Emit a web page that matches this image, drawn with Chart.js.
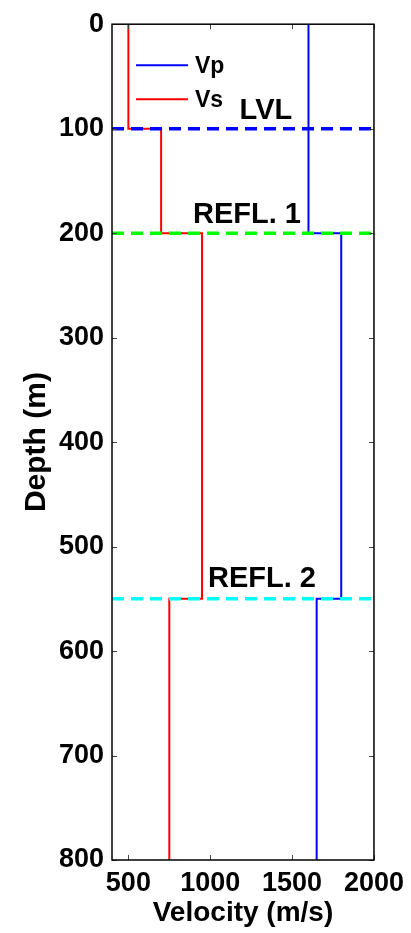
<!DOCTYPE html>
<html>
<head>
<meta charset="utf-8">
<script src="https://cdn.jsdelivr.net/npm/chart.js@4/dist/chart.umd.min.js"></script>
<style>
  html, body { margin: 0; padding: 0; background: #ffffff; }
  #wrap { width: 411px; height: 933px; }
</style>
</head>
<body>
<div id="wrap"><canvas id="c" width="411" height="933"></canvas></div>
<script>
// Layered velocity model: boundaries in metres, velocities per layer in m/s
const layerDepths = [0, 100, 200, 550, 800];
const vpValues = [1600, 1600, 1800, 1650];
const vsValues = [500, 700, 950, 750];

// Interfaces marked across the section
const horizonNames = ['LVL', 'REFL. 1', 'REFL. 2'];
const horizonDepths = [100, 200, 550];

// Axis tick values
const xTicks = [500, 1000, 1500, 2000];
const yTicks = [0, 100, 200, 300, 400, 500, 600, 700, 800];

const FONT = '"Liberation Sans", Arial, Helvetica, sans-serif';
const horizonColors = ['#0000ff', '#00ff00', '#00ffff'];

// Turn per-layer velocities into a stepped depth profile
function stepProfile(values) {
  const pts = [];
  values.forEach((v, i) => {
    pts.push({ x: v, y: layerDepths[i] });
    pts.push({ x: v, y: layerDepths[i + 1] });
  });
  return pts;
}

const xMin = 400, xMax = 2000;

const horizonSets = horizonDepths.map((d, i) => ({
  label: horizonNames[i],
  data: [{ x: xMin, y: d }, { x: xMax, y: d }],
  borderColor: horizonColors[i],
  borderWidth: 3.5,
  borderDash: [12, 7],
  pointRadius: 0,
  showLine: true,
  isHorizon: true
}));

const velocitySets = [
  { label: 'Vp', data: stepProfile(vpValues), borderColor: '#0000ff' },
  { label: 'Vs', data: stepProfile(vsValues), borderColor: '#ff0000' }
].map(ds => Object.assign(ds, { borderWidth: 2, pointRadius: 0, showLine: true }));

// Box, inward ticks, legend and horizon captions
const decorations = {
  id: 'decorations',
  afterDatasetsDraw(chart) {
    const { ctx, chartArea: a, scales } = chart;
    const xs = scales.x, ys = scales.y;
    ctx.save();

    // inward tick marks on all four sides
    ctx.strokeStyle = '#444444';
    ctx.lineWidth = 1;
    const tl = 5;
    ctx.beginPath();
    xTicks.forEach(v => {
      const px = Math.round(xs.getPixelForValue(v)) + 0.5;
      ctx.moveTo(px, a.bottom); ctx.lineTo(px, a.bottom - tl);
      ctx.moveTo(px, a.top); ctx.lineTo(px, a.top + tl);
    });
    yTicks.forEach(v => {
      const py = Math.round(ys.getPixelForValue(v)) + 0.5;
      ctx.moveTo(a.left, py); ctx.lineTo(a.left + tl, py);
      ctx.moveTo(a.right, py); ctx.lineTo(a.right - tl, py);
    });
    ctx.stroke();

    // axes box
    ctx.strokeStyle = '#000000';
    ctx.lineWidth = 1.5;
    ctx.strokeRect(a.left, a.top, a.right - a.left, a.bottom - a.top);

    // legend inside the upper-left corner
    const legendRows = chart.data.datasets.filter(d => !d.isHorizon);
    legendRows.forEach((ds, i) => {
      const y = a.top + 41 + i * 34;
      ctx.strokeStyle = ds.borderColor;
      ctx.lineWidth = 2;
      ctx.beginPath();
      ctx.moveTo(a.left + 24, y);
      ctx.lineTo(a.left + 76, y);
      ctx.stroke();
      ctx.fillStyle = '#000000';
      ctx.font = 'bold 23px ' + FONT;
      ctx.textAlign = 'left';
      ctx.textBaseline = 'middle';
      ctx.fillText(ds.label, a.left + 83, y + 1);
    });

    // captions above each interface
    const captionX = [1340, 1224, 1316];
    const captionLift = [10, 10, 12];
    ctx.fillStyle = '#000000';
    ctx.font = 'bold 29px ' + FONT;
    ctx.textAlign = 'center';
    ctx.textBaseline = 'alphabetic';
    horizonNames.forEach((name, i) => {
      const px = xs.getPixelForValue(captionX[i]);
      const py = ys.getPixelForValue(horizonDepths[i]) - captionLift[i];
      ctx.fillText(name, px, py);
    });
    ctx.restore();
  }
};

new Chart(document.getElementById('c'), {
  type: 'scatter',
  data: { datasets: horizonSets.concat(velocitySets) },
  options: {
    responsive: false,
    animation: false,
    devicePixelRatio: 1,
    layout: { padding: { top: 18, right: 37, left: 0, bottom: 0 } },
    plugins: { legend: { display: false }, tooltip: { enabled: false } },
    scales: {
      x: {
        type: 'linear',
        position: 'bottom',
        min: xMin,
        max: xMax,
        grid: { display: false, drawTicks: false },
        border: { display: false },
        afterBuildTicks: s => { s.ticks = xTicks.map(v => ({ value: v })); },
        afterFit: s => { s.height = 73; },
        ticks: {
          color: '#000000',
          padding: 7,
          maxRotation: 0,
          autoSkip: false,
          callback: v => String(v),
          font: { family: FONT, size: 27, weight: 'bold' }
        },
        title: {
          display: true,
          text: 'Velocity (m/s)',
          color: '#000000',
          font: { family: FONT, size: 28, weight: 'bold' },
          padding: { top: 0, bottom: 3 }
        }
      },
      y: {
        type: 'linear',
        reverse: true,
        min: 0,
        max: 800,
        grid: { display: false, drawTicks: false },
        border: { display: false },
        afterBuildTicks: s => { s.ticks = yTicks.map(v => ({ value: v })); },
        afterFit: s => { s.width = 112; },
        ticks: {
          color: '#000000',
          padding: 8,
          autoSkip: false,
          callback: v => String(v),
          font: { family: FONT, size: 27, weight: 'bold' }
        },
        title: {
          display: true,
          text: 'Depth (m)',
          color: '#000000',
          font: { family: FONT, size: 30, weight: 'bold' },
          padding: { top: 19, bottom: 0 }
        }
      }
    }
  },
  plugins: [decorations]
});
</script>
</body>
</html>
